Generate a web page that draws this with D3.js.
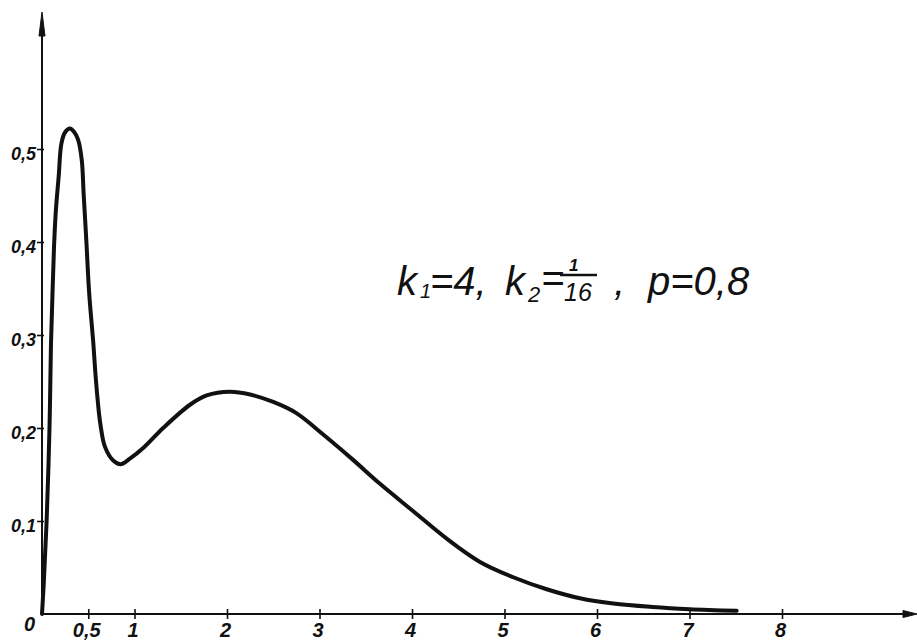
<!DOCTYPE html>
<html>
<head>
<meta charset="utf-8">
<script src="https://cdn.jsdelivr.net/npm/d3@7"></script>
<style>
	html, body { margin: 0; padding: 0; background: #fff; }
	svg { display: block; }
	text { font-family: 'Liberation Sans', 'DejaVu Sans', sans-serif; font-style: italic; fill: #111; }
	.tick text { font-weight: bold; }
</style>
</head>
<body>
<div id="chart"></div>
<script>
// values
const xValues = [0, 0.02, 0.05, 0.081, 0.097, 0.115, 0.13, 0.15, 0.18, 0.21, 0.25, 0.30, 0.35, 0.39, 0.43, 0.45,
	0.48, 0.51, 0.555, 0.575, 0.60, 0.63, 0.68, 0.77, 0.85, 0.95, 1.10, 1.31, 1.60, 1.78, 2.03, 2.25,
	2.50, 2.75, 3.04, 3.36, 3.654, 4.014, 4.375, 4.735, 5.095, 5.456, 5.816, 6.176, 6.6, 7.0, 7.51];
const yValues = [0, 0.035, 0.10, 0.20, 0.29, 0.35, 0.395, 0.434, 0.47, 0.506, 0.518, 0.522, 0.518, 0.51, 0.488, 0.452,
	0.40, 0.345, 0.291, 0.262, 0.232, 0.205, 0.180, 0.165, 0.161, 0.167, 0.179, 0.200, 0.225, 0.235, 0.239, 0.236,
	0.228, 0.216, 0.193, 0.166, 0.140, 0.1105, 0.081, 0.056, 0.0395, 0.0266, 0.0169, 0.0112, 0.0075, 0.0052, 0.0035];
const xTicks = [0.5, 1, 2, 3, 4, 5, 6, 7, 8];
const yTicks = [0.1, 0.2, 0.3, 0.4, 0.5];

const locale = d3.formatLocale({decimal: ',', thousands: ' ', grouping: [3], currency: ['', '']});
const fmt = locale.format('~g');

const width = 917;
const height = 640;

const x = d3.scaleLinear().domain([0, 8]).range([42, 782]);
const y = d3.scaleLinear().domain([0, 0.5]).range([614, 149]);

const svg = d3.select('#chart').append('svg')
	.attr('width', width)
	.attr('height', height);

/* axis lines with their arrows, drawn by hand like the original */
const axes = svg.append('g').attr('stroke', '#111').attr('fill', '#111');
axes.append('line')
	.attr('x1', x(0)).attr('y1', y(0))
	.attr('x2', width - 8).attr('y2', y(0))
	.attr('stroke-width', 2);
axes.append('path')
	.attr('d', `M${width},${y(0)} L${width - 14},${y(0) - 3.5} L${width - 14},${y(0) + 3.5} Z`);
axes.append('line')
	.attr('x1', x(0)).attr('y1', y(0))
	.attr('x2', x(0)).attr('y2', 30)
	.attr('stroke-width', 2);
axes.append('path')
	.attr('d', `M${x(0)},12 L${x(0) - 3},36 L${x(0) + 3},36 Z`);

// x ticks cross the axis
const gx = svg.append('g')
	.attr('transform', `translate(0,${y(0)})`)
	.call(d3.axisBottom(x).tickValues(xTicks).tickFormat(fmt).tickSize(4));
gx.select('.domain').remove();
gx.selectAll('.tick line').attr('y1', -5).attr('y2', 5).attr('stroke', '#111').attr('stroke-width', 1.6);
gx.selectAll('.tick text')
	.attr('y', 9).attr('dx', -2)
	.style('font-size', '20px');

const gy = svg.append('g')
	.attr('transform', `translate(${x(0)},0)`)
	.call(d3.axisLeft(y).tickValues(yTicks).tickFormat(fmt).tickSize(5));
gy.select('.domain').remove();
gy.selectAll('.tick line').attr('x1', 2).attr('x2', -5).attr('stroke', '#111').attr('stroke-width', 1.6);
gy.selectAll('.tick text')
	.attr('x', -6).attr('dy', '0.6em')
	.style('font-size', '18px');

svg.append('text')
	.attr('x', x(0) - 7).attr('y', y(0) + 17)
	.attr('text-anchor', 'end')
	.style('font-size', '20px')
	.style('font-weight', 'bold')
	.text(fmt(0));

// the curve
const points = xValues.map((v, i) => [v, yValues[i]]);
svg.append('path')
	.datum(points)
	.attr('fill', 'none')
	.attr('stroke', '#111')
	.attr('stroke-width', 4)
	.attr('stroke-linejoin', 'round')
	.attr('stroke-linecap', 'round')
	.attr('d', d3.line().x(d => x(d[0])).y(d => y(d[1])).curve(d3.curveCatmullRom.alpha(0.5)));

/* parameter annotation: k1=4, k2=1/16, p=0,8 */
const note = svg.append('g').style('font-size', '40px');
const put = (tx, ty, s, size) => note.append('text')
	.attr('x', tx).attr('y', ty)
	.style('font-size', size ? size + 'px' : null)
	.text(s);
put(397, 295, 'k');
put(420, 298, '1', 20);
put(430, 295, '=4,');
put(505, 295, 'k');
put(528, 302, '2', 22);
put(541, 292, '=');
put(569, 271, '1', 17).style('font-weight', 'bold');
put(564, 301, '16', 25);
note.append('line')
	.attr('x1', 560).attr('x2', 597)
	.attr('y1', 275).attr('y2', 275)
	.attr('stroke', '#111').attr('stroke-width', 2.5);
put(614, 295, ',');
put(648, 295, 'p=0,8');
</script>
</body>
</html>
